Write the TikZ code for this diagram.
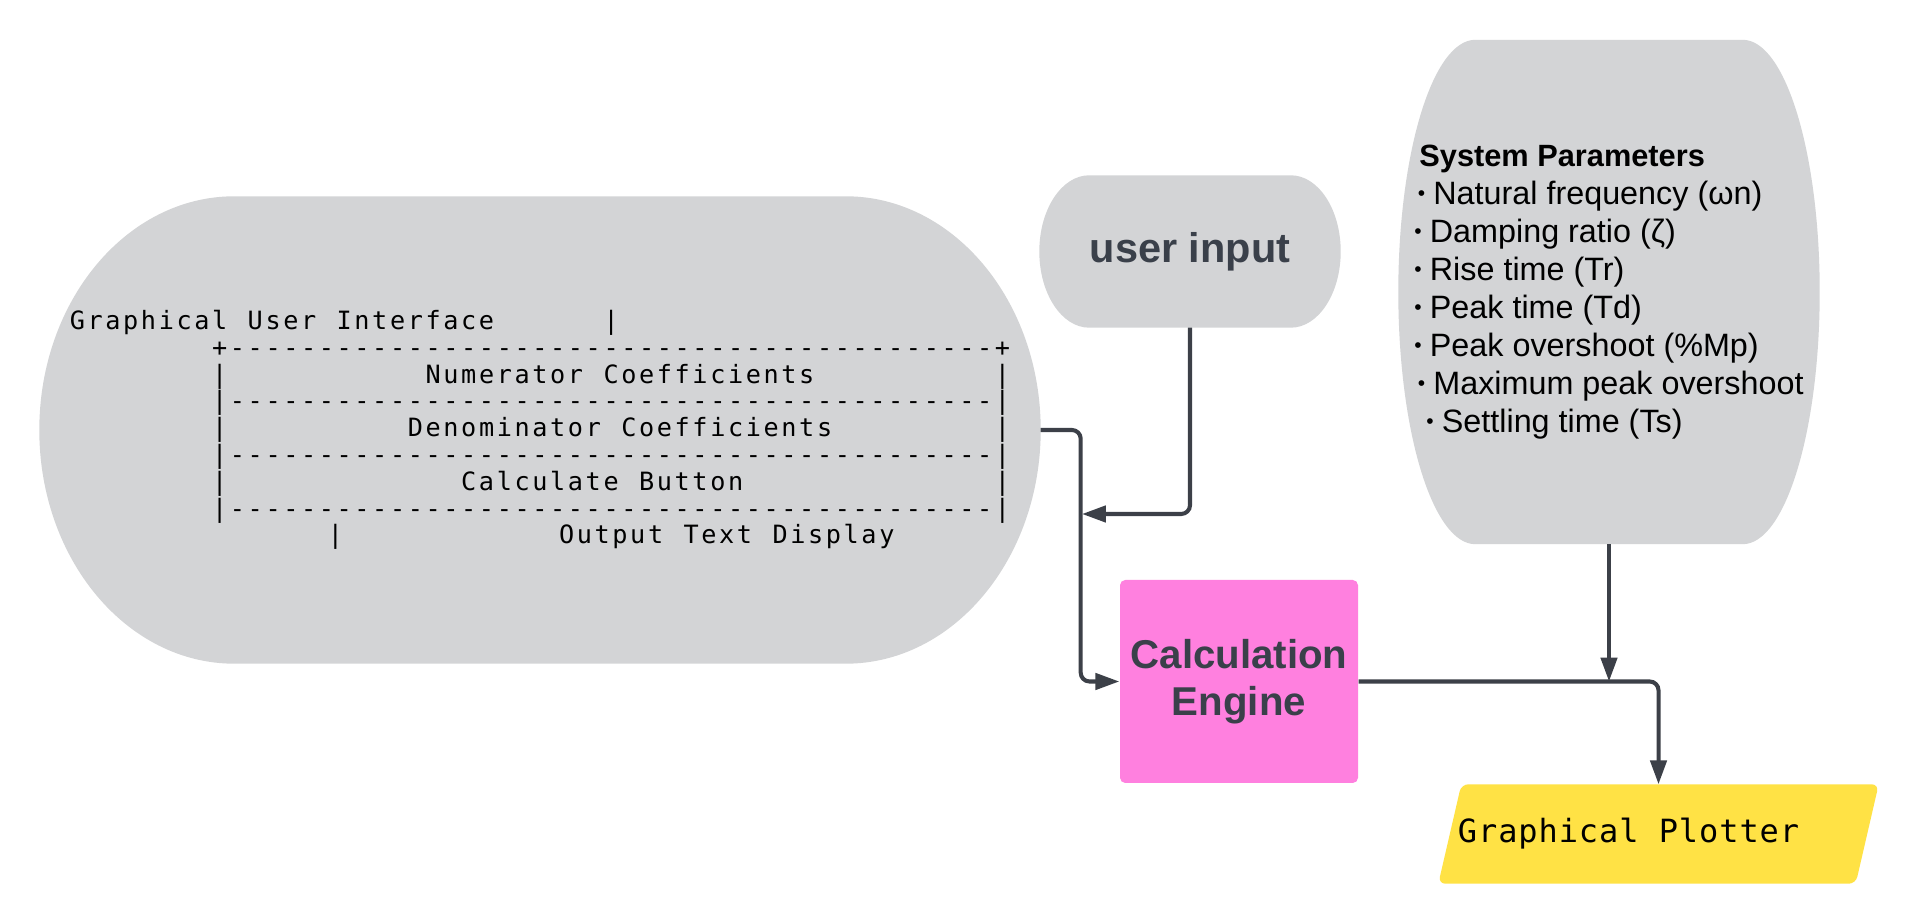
\documentclass[tikz,border=0pt]{standalone}
\usepackage{fontspec}
\setmainfont{Liberation Sans}
\newfontfamily\guimono[LetterSpace=10.4,Ligatures=TeXOff]{DejaVu Sans Mono}
\newfontfamily\plotmono[LetterSpace=2.9,Ligatures=TeXOff]{DejaVu Sans Mono}
\usepackage{xcolor}
\usetikzlibrary{arrows.meta,positioning,calc,backgrounds}

\definecolor{blobgray}{RGB}{211,212,214}
\definecolor{enginepink}{RGB}{255,128,223}
\definecolor{plotteryellow}{RGB}{255,226,69}
\definecolor{inkgray}{RGB}{58,64,74}
\definecolor{wiregray}{RGB}{60,64,72}

% blanks and rules for the ascii panel (one cell = one letter)
\newlength{\guipitch}
\setlength{\guipitch}{5.062pt}
\newcommand{\padl}[1]{\hspace*{#1\guipitch}}% at line start
\newcommand{\sk}[1]{\hspace*{\dimexpr#1\guipitch+0.745pt\relax}}% after a word
\newcommand{\dashten}{----------}
\newcommand{\guirule}{\dashten\dashten\dashten\dashten---}
\newcommand{\bulletdot}{\raisebox{1.1pt}{\scalebox{.65}{•}}\hspace{2.3pt}}

% grey shape with elliptic ends behind a node
\newcommand{\capsule}[3]{%
  \fill[#3] let \p1=(#1.north), \p2=(#1.south), \n1={(\y1-\y2)/2} in
    ([xshift=#2]#1.north west) -- ([xshift=-#2]#1.north east)
    arc[start angle=90, end angle=-90, x radius=#2, y radius=\n1]
    -- ([xshift=#2]#1.south west)
    arc[start angle=270, end angle=90, x radius=#2, y radius=\n1] -- cycle;}

\tikzset{
  blob/.style={inner sep=0pt},
  guitext/.style={blob, align=left, minimum width=100mm, minimum height=46.6mm,
    font=\guimono\fontsize{7.17pt}{7.62pt}\selectfont},
  inputtext/.style={blob, minimum width=30mm, minimum height=15.1mm, text=inkgray,
    font=\bfseries\fontsize{11.8pt}{13.3pt}\selectfont},
  paramtext/.style={blob, align=left, minimum width=42mm, minimum height=50.3mm,
    font=\fontsize{9.2pt}{10.84pt}\selectfont},
  engine/.style={fill=enginepink, rounded corners=1.5pt, inner sep=2pt,
    minimum width=23.8mm, minimum height=20.3mm, align=center, text=inkgray,
    font=\bfseries\fontsize{11.45pt}{13.3pt}\selectfont},
  plotbox/.style={blob, minimum width=43.9mm, minimum height=9.8mm,
    font=\plotmono\fontsize{9.1pt}{11pt}\selectfont},
  wire/.style={draw=wiregray, line width=1.15pt, rounded corners=2.5pt, ->}
}

\begin{document}
\begin{tikzpicture}[x=0.1mm, y=-0.1mm, >={Triangle[length=6.8pt,width=4.6pt]}]
    \useasboundingbox (0,0) rectangle (1918,924);

    % GUI panel
    \node[guitext] (gui) at (540,430) {%
      Graphical\sk{1}User\sk{1}Interface\sk{6}|\\
      \padl{8}+\guirule+\\
      \padl{8}|\sk{11}Numerator\sk{1}Coefficients\sk{10}|\\
      \padl{8}|\guirule|\\
      \padl{8}|\sk{10}Denominator\sk{1}Coefficients\sk{9}|\\
      \padl{8}|\guirule|\\
      \padl{8}|\sk{13}Calculate\sk{1}Button\sk{14}|\\
      \padl{8}|\guirule|\\
      \padl{14.5}|\sk{12}Output\sk{1}Text\sk{1}Display};

    % user input
    \node[inputtext] (userinput) at (1190,251.5) {user input};

    % system parameters
    \node[paramtext] (sysparams) at (1609,292) {%
      \hspace*{0.5mm}{\bfseries\fontsize{8.75pt}{10.84pt}\selectfont System Parameters}\\
      \hspace*{0.35mm}\bulletdot Natural frequency (ωn)\\
      \bulletdot Damping ratio (ζ)\\
      \bulletdot Rise time (Tr)\\
      \bulletdot Peak time (Td)\\
      \bulletdot Peak overshoot (\%Mp)\\
      \hspace*{0.35mm}\bulletdot Maximum peak overshoot\\
      \hspace*{1.2mm}\bulletdot Settling time (Ts)};

    % engine and plotter
    \node[engine] (engine) at (1239,681.5) {Calculation\\Engine};
    \node[plotbox] (plotter) at (1658.5,834) {Graphical Plotter\hspace*{6mm}};

    % shapes behind
    \begin{scope}[on background layer]
        \fill[white] (0,0) rectangle (1918,924);
        \capsule{gui}{19.5mm}{blobgray}
        \capsule{userinput}{5mm}{blobgray}
        \capsule{sysparams}{7.7mm}{blobgray}
        \fill[plotteryellow, rounded corners=2pt] ([xshift=2.3mm]plotter.north west)
            -- (plotter.north east) -- ([xshift=-2.3mm]plotter.south east)
            -- (plotter.south west) -- cycle;
    \end{scope}

    % links
    \coordinate (merge) at (1082,514);
    \draw[wire] (gui.east) -- ++(40,0) |- (engine.west);
    \draw[wire] (userinput.south) |- (merge);
    \draw[wire] (sysparams.south) -- (sysparams.south |- engine.east);
    \draw[wire] (engine.east) -| (plotter.north);
\end{tikzpicture}
\end{document}
